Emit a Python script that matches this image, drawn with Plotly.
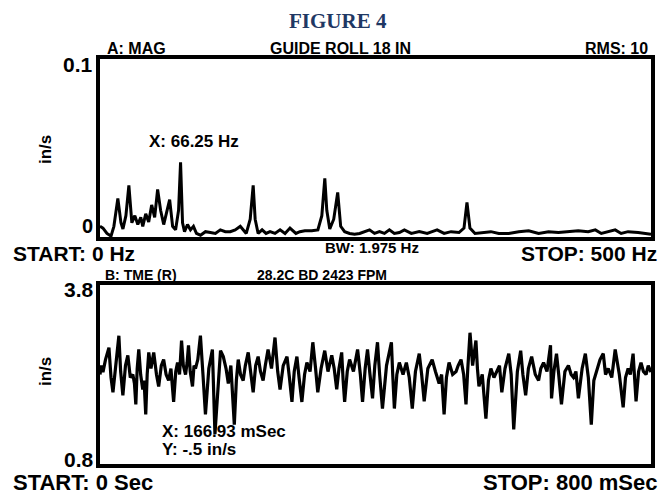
import plotly.graph_objects as go

# ---- Spectrum (top panel) ----
spec_hz = [0, 2.7, 6.3, 10, 12.6, 16.2, 19, 20.8, 23.5, 26.2, 28.9, 31.6, 34.3, 37, 38.8, 41.5, 44.2,
           46.9, 49.6, 52.3, 55, 57.8, 60.5, 63.2, 65.9, 68.6, 71.3, 73.1, 74.9, 76.7, 79.4, 82.1, 84.8,
           87.5, 91.2, 95.7, 100.2, 104.7, 109.2, 113.7, 118.2, 122.7, 127.3, 132.7, 136.3, 139, 140.8,
           143.5, 147.1, 150.7, 154.3, 158.8, 163.4, 167.9, 172.4, 177.8, 181.4, 185.9, 192.2, 197.7,
           201.3, 204, 205.8, 208.5, 212.1, 215.7, 218.4, 222, 226.5, 231, 235.6, 240.1, 244.6, 249.1,
           253.6, 258.1, 262.6, 267.1, 271.7, 276.2, 282.5, 289.7, 296.9, 301.4, 305.9, 312.3, 318.6,
           325.8, 330.3, 333, 335.7, 340.3, 347.5, 354.7, 361.9, 370.9, 380, 389, 398, 407, 416, 425,
           434, 443, 449.5, 454.9, 461.2, 467.5, 472.9, 479.2, 488.3, 495.5, 500]
spec_amp = [0.006, 0.005, 0.002, 0.0005, 0.006, 0.0217, 0.008, 0.0045, 0.012, 0.029, 0.008, 0.012,
            0.007, 0.011, 0.006, 0.013, 0.0085, 0.018, 0.011, 0.0267, 0.015, 0.007, 0.014, 0.021,
            0.006, 0.004, 0.015, 0.042, 0.008, 0.003, 0.007, 0.004, 0.006, 0.002, 0.001, 0.003,
            0.0025, 0.002, 0.004, 0.003, 0.003, 0.004, 0.006, 0.002, 0.01, 0.029, 0.01, 0.002,
            0.004, 0.002, 0.003, 0.002, 0.004, 0.002, 0.005, 0.002, 0.003, 0.0035, 0.0035, 0.004,
            0.012, 0.033, 0.015, 0.0045, 0.01, 0.025, 0.006, 0.003, 0.002, 0.0015, 0.002, 0.003,
            0.004, 0.002, 0.003, 0.002, 0.004, 0.002, 0.0025, 0.004, 0.002, 0.003, 0.002, 0.003,
            0.004, 0.002, 0.003, 0.0025, 0.005, 0.0194, 0.005, 0.002, 0.0025, 0.003, 0.002, 0.002,
            0.003, 0.0035, 0.002, 0.003, 0.0025, 0.003, 0.0035, 0.003, 0.004, 0.002, 0.003, 0.004,
            0.002, 0.003, 0.0025, 0.002, 0.0015]

# ---- Time waveform (bottom panel) ----
wave_ms = [0, 2, 4.3, 8, 13, 16, 18.8, 23, 27.4, 30, 33.2, 37, 40.4, 44, 47.7, 50, 52, 54, 56.3, 59,
           62.1, 64, 66.4, 68.5, 70.8, 74, 78, 82, 85.2, 89, 92.4, 96, 99.6, 103, 106.9, 110, 112.6,
           115.5, 118.4, 121, 124.2, 126.5, 128.5, 131, 134.3, 136.5, 138.6, 142, 145.8, 149.5, 153.1,
           158, 163.2, 166.9, 171, 175, 179, 183, 186.3, 190, 195, 198, 200.7, 204, 207.9, 211, 215.2,
           219, 222.4, 226, 229.6, 233, 236.8, 240, 244, 249, 254.1, 258, 261.4, 266, 271.5, 275,
           278.7, 282, 285.9, 289, 293.1, 297, 300.4, 305, 309, 313, 316.2, 321, 326.3, 331, 336.5,
           340, 343.7, 347, 350.9, 353, 355.2, 359, 362.4, 368, 374, 378, 381.2, 385, 388.4, 392,
           395.7, 399, 402.9, 406, 410.1, 416, 423.1, 425, 427.4, 431, 434.6, 440, 444.8, 449, 453.4,
           458, 463.5, 467, 470.7, 476, 482.3, 487, 492.4, 496, 499.6, 503, 506.8, 512, 517, 520,
           524.2, 528, 531.4, 534, 537.2, 541, 545.8, 548, 550.2, 555, 560.3, 564, 567.5, 572, 576.2,
           580, 583.4, 588, 593.5, 597, 600.7, 606, 610.8, 614, 618, 622, 626.7, 632, 636.8, 640,
           644, 649, 654.1, 655.6, 659, 662.8, 666, 670, 675, 680.1, 684, 687.4, 691, 694.6, 700,
           704.7, 709, 713.3, 717, 720.6, 726, 730.7, 734, 737.9, 743, 748, 754, 759.6, 763, 766.8,
           770, 774, 776, 778.3, 782, 785.5, 789, 792.8, 796, 800]
wave_val = [2.30, 2.45, 2.34, 2.55, 2.75, 2.25, 2.00, 2.50, 2.95, 2.35, 1.95, 2.45, 2.62, 2.25, 2.30,
            2.15, 1.80, 2.40, 2.72, 2.30, 2.05, 2.20, 1.63, 2.30, 2.67, 2.40, 2.67, 2.30, 2.10, 2.45,
            2.55, 2.30, 2.20, 2.40, 1.84, 2.35, 2.50, 2.30, 2.87, 2.45, 2.30, 2.50, 2.79, 2.35, 2.10,
            2.45, 2.40, 2.55, 2.95, 2.30, 1.63, 2.40, 2.72, 1.30, 2.10, 2.70, 2.60, 2.40, 2.15, 2.45,
            1.46, 2.20, 2.55, 2.30, 2.20, 2.45, 2.67, 2.30, 2.00, 2.45, 2.60, 2.35, 2.20, 2.45, 2.72,
            2.40, 2.92, 2.35, 2.05, 2.45, 2.60, 2.25, 1.84, 2.35, 2.60, 2.25, 1.84, 2.30, 2.50, 2.35,
            2.84, 2.40, 2.00, 2.40, 2.70, 2.35, 2.62, 2.40, 2.05, 2.40, 2.67, 2.20, 1.84, 2.35, 2.55,
            2.35, 2.72, 2.30, 1.84, 2.40, 2.72, 2.30, 1.90, 2.45, 2.84, 2.30, 1.73, 2.45, 2.84, 2.30,
            1.73, 2.30, 2.50, 2.30, 2.50, 2.25, 1.73, 2.35, 2.65, 2.30, 1.85, 2.40, 2.55, 2.35, 2.15,
            2.30, 1.63, 2.25, 2.50, 2.30, 2.35, 2.45, 2.55, 2.30, 1.80, 2.40, 3.00, 2.45, 2.87, 2.40,
            2.10, 2.30, 1.56, 2.20, 2.40, 2.25, 2.35, 2.45, 2.00, 2.40, 2.65, 2.30, 1.38, 2.35, 2.70,
            2.30, 1.95, 2.40, 2.60, 2.30, 2.20, 2.40, 2.50, 2.35, 2.79, 1.90, 2.35, 2.65, 2.30, 1.80,
            2.35, 2.45, 2.30, 2.25, 2.35, 1.90, 2.40, 2.65, 2.25, 1.46, 2.20, 2.35, 2.55, 2.65, 2.30,
            2.40, 2.25, 2.72, 2.30, 1.75, 2.25, 2.40, 2.30, 2.65, 2.30, 1.85, 2.35, 2.50, 2.35, 2.30,
            2.45, 2.34]

W, H = 668, 494


def px(x):
    return x / W


def py(y):
    return 1 - y / H


fig = go.Figure()
fig.add_trace(go.Scatter(x=spec_hz, y=spec_amp, mode="lines",
                         line=dict(color="black", width=3), xaxis="x", yaxis="y",
                         hoverinfo="skip", showlegend=False))
fig.add_trace(go.Scatter(x=wave_ms, y=wave_val, mode="lines",
                         line=dict(color="black", width=3.2), xaxis="x2", yaxis="y2",
                         hoverinfo="skip", showlegend=False))

axis_common = dict(showline=True, mirror=True, linewidth=3.8, linecolor="black",
                   showgrid=False, zeroline=False, showticklabels=False, ticks="")

fig.update_layout(
    width=W, height=H, margin=dict(l=0, r=0, t=0, b=0),
    paper_bgcolor="white", plot_bgcolor="white", showlegend=False,
    xaxis=dict(domain=[px(100), px(651)], range=[0, 500], anchor="y", **axis_common),
    yaxis=dict(domain=[py(237), py(59)], range=[0, 0.1], anchor="x", **axis_common),
    xaxis2=dict(domain=[px(100), px(651)], range=[0, 800], anchor="y2", **axis_common),
    yaxis2=dict(domain=[py(464), py(285)], range=[0.8, 3.8], anchor="x2", **axis_common),
)

SANS = "Liberation Sans, Arial, sans-serif"
texts = [
    # text, x, y, xanchor, size
    ("FIGURE 4", 338, 21, "center", 21, "serif"),
    ("A: MAG", 105, 48, "left", 16, None),
    ("GUIDE ROLL 18 IN", 268, 48, "left", 16, None),
    ("RMS: 10", 650, 48, "right", 16, None),
    ("0.1", 95, 65, "right", 21, None),
    ("0", 95, 226, "right", 20, None),
    ("X: 66.25 Hz", 147, 141, "left", 17, None),
    ("START: 0 Hz", 11, 253, "left", 21, None),
    ("BW: 1.975 Hz", 323, 248, "left", 15, None),
    ("STOP: 500 Hz", 659, 253, "right", 21, None),
    ("B: TME (R)", 103, 275, "left", 14, None),
    ("28.2C BD 2423 FPM", 255, 275, "left", 14, None),
    ("3.8", 96, 289, "right", 21, None),
    ("0.8", 96, 459, "right", 21, None),
    ("X: 166.93 mSec", 160, 431, "left", 17, None),
    ("Y: -.5 in/s", 160, 449, "left", 17, None),
    ("START: 0 Sec", 11, 482, "left", 22, None),
    ("STOP: 800 mSec", 659, 482, "right", 22, None),
]
annots = []
for t, x, y, xa, s, fam in texts:
    if fam == "serif":
        font = dict(family="Liberation Serif, DejaVu Serif, serif", size=s, color="#1f3864")
    else:
        font = dict(family=SANS, size=s, color="black")
    annots.append(dict(text="<b>%s</b>" % t, x=px(x), y=py(y), xref="paper", yref="paper",
                       xanchor=xa, yanchor="middle", showarrow=False, font=font))
for yc in (150, 372):
    annots.append(dict(text="<b>in/s</b>", x=px(45), y=py(yc), xref="paper", yref="paper",
                       xanchor="center", yanchor="middle", showarrow=False, textangle=-90,
                       font=dict(family=SANS, size=17, color="black")))
fig.update_layout(annotations=annots)

fig.write_html("out.html")
